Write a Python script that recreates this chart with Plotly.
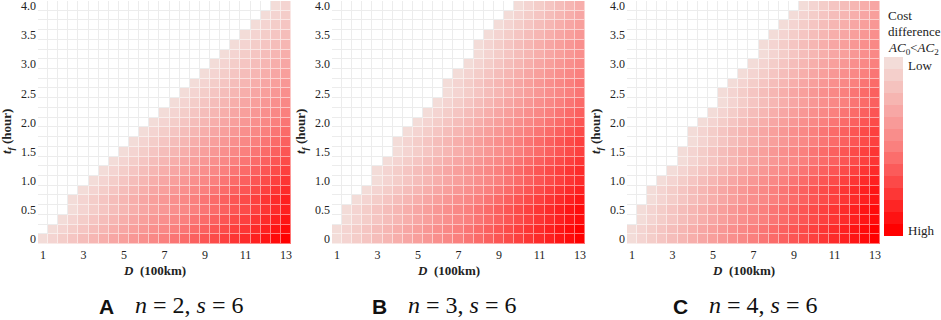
import plotly.graph_objects as go

# ---------------- data ----------------
D_VALUES = [1, 1.5, 2, 2.5, 3, 3.5, 4, 4.5, 5, 5.5, 6, 6.5, 7, 7.5, 8, 8.5,
            9, 9.5, 10, 10.5, 11, 11.5, 12, 12.5, 13]          # D (100 km)
TF_MINUTES = [0, 10, 20, 30, 40, 50, 60, 70, 80, 90, 100, 110, 120, 130, 140,
              150, 160, 170, 180, 190, 200, 210, 220, 230, 240]  # t_f in minutes
X_TICKS = [1, 3, 5, 7, 9, 11, 13]
Y_TICKS = [0, 0.5, 1.0, 1.5, 2.0, 2.5, 3.0, 3.5, 4.0]
Y_TICK_LABELS = ["0", "0.5", "1.0", "1.5", "2.0", "2.5", "3.0", "3.5", "4.0"]

# cost-difference level of each cell (1 = low ... P = 25 = high), '.' = no cell
LEVELS = "123456789ABCDEFGHIJKLMNOP"

# rows listed from top (t_f = 4.0 h) to bottom (t_f = 0)
GRID_A = [
    "..... ..... ..... ..... ...12",
    "..... ..... ..... ..... ..123",
    "..... ..... ..... ..... .1234",
    "..... ..... ..... ..... 12345",
    "..... ..... ..... ....1 23456",
    "..... ..... ..... ...12 34567",
    "..... ..... ..... ..123 45678",
    "..... ..... ..... .1234 56789",
    "..... ..... ..... 12345 6789A",
    "..... ..... ....1 23456 789AB",
    "..... ..... ...12 34567 89ABC",
    "..... ..... ..123 45678 9ABCD",
    "..... ..... .1234 56789 ABCDE",
    "..... ..... 12345 6789A BCDEF",
    "..... ....1 23456 789AB CDEFG",
    "..... ...12 34567 89ABC DEFGH",
    "..... ..123 45678 9ABCD EFGHI",
    "..... .1234 56789 ABCDE FGHIJ",
    "..... 12345 6789A BCDEF GHIJK",
    "....1 23456 789AB CDEFG HIJKL",
    "...12 34567 89ABC DEFGH IJKLM",
    "...12 34567 89ABC DEFGH IJKLM",
    "..123 45678 9ABCD EFGHI JKLMN",
    ".1234 56789 ABCDE FGHIJ KLMNO",
    "12345 6789A BCDEF GHIJK LMNOP",
]

GRID_B = [
    "..... ..... ..... ...12 34567",
    "..... ..... ..... ..123 45678",
    "..... ..... ..... .1234 56789",
    "..... ..... ..... 12345 6789A",
    "..... ..... ....1 23456 789AB",
    "..... ..... ....1 23456 789AB",
    "..... ..... ...12 34567 89ABC",
    "..... ..... ..123 45678 9ABCD",
    "..... ..... .1234 56789 ABCDE",
    "..... ..... .1234 56789 ABCDE",
    "..... ..... 12345 6789A BCDEF",
    "..... ....1 23456 789AB CDEFG",
    "..... ...12 34567 89ABC DEFGH",
    "..... ..123 45678 9ABCD EFGHI",
    "..... .1234 56789 ABCDE FGHIJ",
    "..... .1234 56789 ABCDE FGHIJ",
    "..... 12345 6789A BCDEF GHIJK",
    "....1 23456 789AB CDEFG HIJKL",
    "....1 23456 789AB CDEFG HIJKL",
    "...12 34567 89ABC DEFGH IJKLM",
    "..123 45678 9ABCD EFGHI JKLMN",
    ".1234 56789 ABCDE FGHIJ KLMNO",
    ".1234 56789 ABCDE FGHIJ KLMNO",
    "12345 6789A BCDEF GHIJK LMNOP",
    "12345 6789A BCDEF GHIJK LMNOP",
]

GRID_C = [
    "..... ..... ..... ..123 45678",
    "..... ..... ..... .1234 56789",
    "..... ..... ..... 12345 6789A",
    "..... ..... ....1 23456 789AB",
    "..... ..... ...12 34567 89ABC",
    "..... ..... ...12 34567 89ABC",
    "..... ..... ..123 45678 9ABCD",
    "..... ..... .1234 56789 ABCDE",
    "..... ..... 12345 6789A BCDEF",
    "..... ....1 23456 789AB CDEFG",
    "..... ....1 23456 789AB CDEFG",
    "..... ...12 34567 89ABC DEFGH",
    "..... ..123 45678 9ABCD EFGHI",
    "..... .1234 56789 ABCDE FGHIJ",
    "..... .1234 56789 ABCDE FGHIJ",
    "..... 12345 6789A BCDEF GHIJK",
    "..... 12345 6789A BCDEF GHIJK",
    "....1 23456 789AB CDEFG HIJKL",
    "...12 34567 89ABC DEFGH IJKLM",
    "..123 45678 9ABCD EFGHI JKLMN",
    "..123 45678 9ABCD EFGHI JKLMN",
    ".1234 56789 ABCDE FGHIJ KLMNO",
    ".1234 56789 ABCDE FGHIJ KLMNO",
    "12345 6789A BCDEF GHIJK LMNOP",
    "12345 6789A BCDEF GHIJK LMNOP",
]

PANEL_LETTERS = ["A", "B", "C"]
PANEL_PARAMS = ["<i>n</i> = 2, <i>s</i> = 6",
                "<i>n</i> = 3, <i>s</i> = 6",
                "<i>n</i> = 4, <i>s</i> = 6"]

# ---------------- styling ----------------
W, H = 941, 320
PLOT_LEFT = [38, 332, 627]
PLOT_W = 253
PLOT_TOP, PLOT_BOTTOM = 1, 244
SERIF = "Liberation Serif, Times New Roman, serif"
SANS = "Liberation Sans, Arial, sans-serif"

LOW = (243, 220, 216)
MID = (250, 128, 126)
HIGH = (255, 0, 0)


def rgb(c):
    return "rgb(%d,%d,%d)" % tuple(int(round(v)) for v in c)


def mix(a, b, t):
    return tuple(a[i] + (b[i] - a[i]) * t for i in range(3))


def sample(t):
    return mix(LOW, MID, t / 0.5) if t <= 0.5 else mix(MID, HIGH, (t - 0.5) / 0.5)


WHITE = (255, 255, 255)
MAIN_SCALE = [[0, rgb(LOW)], [0.5, rgb(MID)], [1, rgb(HIGH)]]
LINE_SCALE = [[0, rgb(mix(LOW, WHITE, 0.5))], [0.5, rgb(mix(MID, WHITE, 0.5))],
              [1, rgb(mix(HIGH, WHITE, 0.45))]]

NB = 15
BAR_SCALE = []
for i in range(NB):
    col = rgb(sample((NB - 1 - i) / (NB - 1)))
    BAR_SCALE.append([i / NB, col])
    BAR_SCALE.append([(i + 1) / NB, col])

tf_hours = [m / 60 for m in TF_MINUTES]


def parse(grid):
    rows = [r.replace(" ", "") for r in reversed(grid)]
    z = [[(LEVELS.index(ch) + 1) if ch != "." else None for ch in row] for row in rows]
    empty = [[1 if ch == "." else None for ch in row] for row in rows]
    return z, empty


fig = go.Figure()
grids = [GRID_A, GRID_B, GRID_C]
for k, grid in enumerate(grids):
    z, empty = parse(grid)
    xa = "x" if k == 0 else "x%d" % (k + 1)
    ya = "y" if k == 0 else "y%d" % (k + 1)
    # light underlay that shows through the gaps of the coloured cells
    fig.add_trace(go.Heatmap(x=D_VALUES, y=tf_hours, z=z, colorscale=LINE_SCALE,
                             zmin=1, zmax=25, showscale=False, xaxis=xa, yaxis=ya,
                             hoverinfo="skip"))
    # empty (white) cells with faint grid lines
    fig.add_trace(go.Heatmap(x=D_VALUES, y=tf_hours, z=empty,
                             colorscale=[[0, "white"], [1, "white"]], showscale=False,
                             xgap=1, ygap=1, xaxis=xa, yaxis=ya, hoverinfo="skip"))
    # coloured cells
    fig.add_trace(go.Heatmap(x=D_VALUES, y=tf_hours, z=z, coloraxis="coloraxis",
                             xgap=1, ygap=1, xaxis=xa, yaxis=ya,
                             hovertemplate="D=%{x}<br>t_f=%{y:.2f}<br>level=%{z}<extra></extra>"))

# off-range trace that carries the banded legend colour bar
fig.add_trace(go.Heatmap(x=[500], y=[500], z=[[1]], coloraxis="coloraxis2",
                         xaxis="x3", yaxis="y3", hoverinfo="skip"))

layout = dict(
    width=W, height=H, margin=dict(l=0, r=0, t=0, b=0, autoexpand=False),
    paper_bgcolor="white", plot_bgcolor="#ececec",
    showlegend=False,
    coloraxis=dict(cmin=1, cmax=25, colorscale=MAIN_SCALE, showscale=False),
    coloraxis2=dict(cmin=0, cmax=NB, colorscale=BAR_SCALE, showscale=True,
                    colorbar=dict(x=884 / W, xanchor="left", y=1 - 146.5 / H,
                                  yanchor="middle", len=179, lenmode="pixels",
                                  thickness=19, thicknessmode="pixels",
                                  outlinewidth=0, showticklabels=False, ticks="",
                                  xpad=0, ypad=0)),
)

ydom = [1 - PLOT_BOTTOM / H, 1 - PLOT_TOP / H]
for k in range(3):
    sx = "" if k == 0 else str(k + 1)
    layout["xaxis" + sx] = dict(
        domain=[PLOT_LEFT[k] / W, (PLOT_LEFT[k] + PLOT_W) / W],
        anchor="y" + sx, range=[0.75, 13.25], tickvals=X_TICKS,
        showgrid=False, zeroline=False, showline=False, ticks="", ticklen=0,
        ticklabelstandoff=2, ticklabeloverflow="allow",
        tickfont=dict(family=SERIF, size=12, color="#222"), fixedrange=True)
    layout["yaxis" + sx] = dict(
        domain=ydom, anchor="x" + sx, range=[-1 / 12, 4 + 1 / 12],
        tickvals=Y_TICKS, ticktext=Y_TICK_LABELS,
        showgrid=False, zeroline=False, showline=False, ticks="", ticklen=0,
        ticklabelstandoff=1, ticklabeloverflow="allow",
        tickfont=dict(family=SERIF, size=12, color="#222"), fixedrange=True)

fig.update_layout(**layout)

ann = []
for k in range(3):
    left = PLOT_LEFT[k]
    cx = left + PLOT_W / 2
    ann.append(dict(x=(cx - 10) / W, y=1 - 270 / H, xref="paper", yref="paper",
                    text="<b><i>D</i>  (100km)</b>", showarrow=False,
                    font=dict(family=SERIF, size=13, color="#222"),
                    xanchor="center", yanchor="middle"))
    ann.append(dict(x=(left - 31) / W, y=1 - 132 / H, xref="paper", yref="paper",
                    text="<b><i>t<sub>f</sub></i> (hour)</b>", showarrow=False,
                    textangle=-90, font=dict(family=SERIF, size=13, color="#222"),
                    xanchor="center", yanchor="middle"))
letter_x = [106.5, 379.5, 680.5]
param_x = [188.5, 462, 762.5]
for k in range(3):
    ann.append(dict(x=letter_x[k] / W, y=1 - 306 / H, xref="paper", yref="paper",
                    text="<b>%s</b>" % PANEL_LETTERS[k], showarrow=False,
                    font=dict(family=SANS, size=21, color="#111"),
                    xanchor="center", yanchor="middle"))
    ann.append(dict(x=param_x[k] / W, y=1 - 305 / H, xref="paper", yref="paper",
                    text=PANEL_PARAMS[k], showarrow=False,
                    font=dict(family=SERIF, size=24, color="#111"),
                    xanchor="center", yanchor="middle"))

# colour-bar captions
for txt, yy in [("Cost", 15), ("difference", 32),
                ("<i>AC</i><sub>0</sub>&lt;<i>AC</i><sub>2</sub>", 49)]:
    ann.append(dict(x=886 / W, y=1 - yy / H, xref="paper", yref="paper", text=txt,
                    showarrow=False, font=dict(family=SERIF, size=13, color="#222"),
                    xanchor="left", yanchor="middle"))
ann.append(dict(x=906 / W, y=1 - 65 / H, xref="paper", yref="paper", text="Low",
                showarrow=False, font=dict(family=SERIF, size=13, color="#222"),
                xanchor="left", yanchor="middle"))
ann.append(dict(x=906 / W, y=1 - 230 / H, xref="paper", yref="paper", text="High",
                showarrow=False, font=dict(family=SERIF, size=13, color="#222"),
                xanchor="left", yanchor="middle"))
fig.update_layout(annotations=ann)

fig.write_html("out.html", config={"displayModeBar": False},
               post_script="document.body.style.margin='0';document.body.style.overflow='hidden';")
